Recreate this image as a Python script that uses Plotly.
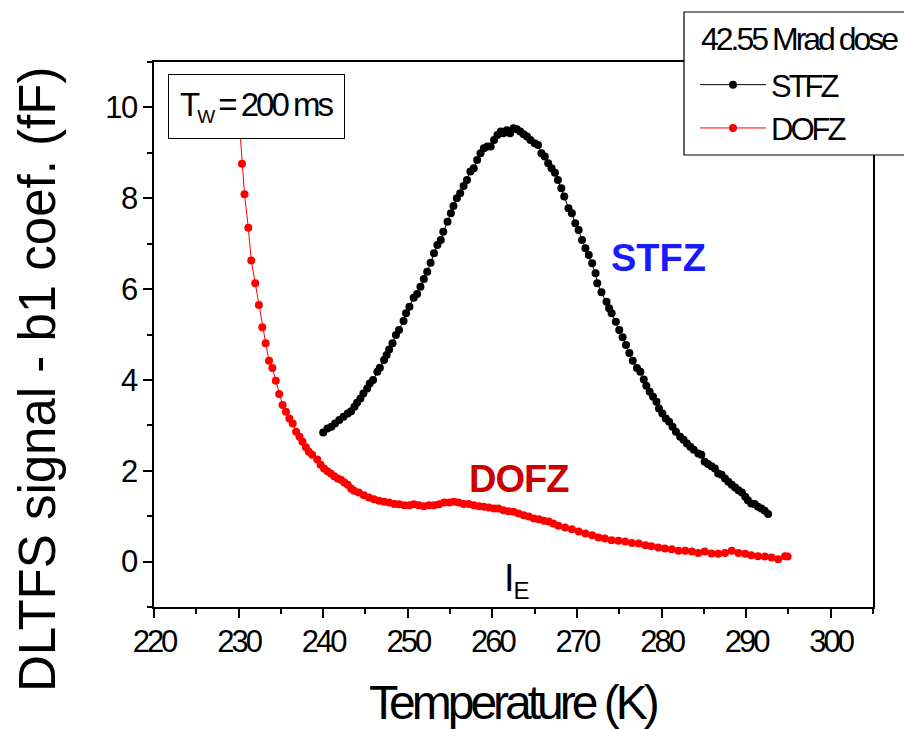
import plotly.graph_objects as go

# DLTFS b1 coefficient vs temperature, 42.55 Mrad dose, Tw = 200 ms
stfz_temp = [
    240.0, 240.5, 240.97, 241.4, 241.9, 242.4, 242.9, 243.3, 243.7, 244.0,
    244.4, 244.75, 245.2, 245.5, 245.9, 246.4, 246.7, 247.2, 247.5, 247.8,
    248.2, 248.6, 248.96, 249.5, 249.8, 250.2, 250.7, 251.1, 251.5, 251.9,
    252.3, 252.7, 253.1, 253.5, 253.9, 254.2, 254.7, 255.1, 255.4, 255.8,
    256.2, 256.6, 257.0, 257.4, 257.8, 258.2, 258.6, 259.0, 259.4, 259.8,
    260.2, 260.6, 261.0, 261.3, 261.7, 262.1, 262.5, 262.9, 263.3, 263.7,
    264.1, 264.5, 265.0, 265.4, 265.8, 266.2, 266.6, 267.0, 267.4, 267.75,
    268.15, 268.5, 269.0, 269.4, 269.8, 270.2, 270.6, 271.0, 271.4, 271.8,
    272.2, 272.4, 272.9, 273.5, 273.8, 274.1, 274.6, 275.0, 275.4, 275.8,
    276.2, 276.6, 277.1, 277.5, 277.9, 278.2, 278.6, 279.0, 279.4, 279.7,
    280.1, 280.5, 280.9, 281.3, 281.7, 282.2, 282.6, 283.0, 283.4, 283.8,
    284.35, 284.7, 285.1, 285.5, 285.9, 286.3, 286.7, 287.1, 287.5, 287.9,
    288.3, 288.7, 289.1, 289.5, 289.9, 290.2, 290.6, 291.0, 291.4, 291.8,
    292.2, 292.6,
]
stfz_signal = [
    2.84, 2.93, 2.97, 3.04, 3.12, 3.19, 3.26, 3.31, 3.41, 3.50,
    3.59, 3.70, 3.81, 3.92, 4.00, 4.18, 4.27, 4.44, 4.55, 4.67,
    4.81, 4.99, 5.10, 5.30, 5.47, 5.61, 5.81, 5.89, 6.05, 6.22,
    6.38, 6.58, 6.79, 6.97, 7.08, 7.26, 7.48, 7.67, 7.83, 8.00,
    8.11, 8.27, 8.40, 8.59, 8.66, 8.84, 8.99, 9.10, 9.14, 9.14,
    9.28, 9.39, 9.47, 9.43, 9.50, 9.43, 9.54, 9.52, 9.47, 9.41,
    9.36, 9.28, 9.21, 9.17, 8.99, 8.92, 8.77, 8.66, 8.56, 8.40,
    8.22, 8.04, 7.78, 7.67, 7.45, 7.30, 7.08, 6.90, 6.75, 6.57,
    6.35, 6.13, 5.93, 5.72, 5.58, 5.47, 5.28, 5.10, 4.94, 4.77,
    4.59, 4.42, 4.26, 4.18, 4.01, 3.87, 3.74, 3.63, 3.52, 3.37,
    3.26, 3.15, 3.08, 2.97, 2.86, 2.75, 2.68, 2.60, 2.53, 2.46,
    2.38, 2.35, 2.20, 2.15, 2.10, 2.05, 1.94, 1.91, 1.83, 1.76,
    1.69, 1.63, 1.57, 1.52, 1.43, 1.35, 1.28, 1.27, 1.21, 1.17,
    1.12, 1.05,
]

dofz_temp = [
    229.85, 230.4, 230.7, 231.15, 231.5, 231.97, 232.4, 232.8, 233.2, 233.6,
    234.0, 234.4, 234.8, 235.2, 235.6, 236.0, 236.4, 236.8, 237.2, 237.55,
    237.95, 238.3, 238.7, 239.3, 239.7, 240.1, 240.5, 240.9, 241.3, 241.7,
    242.1, 242.5, 242.9, 243.3, 243.65, 244.2, 244.8, 245.4, 246.0, 246.6,
    247.2, 247.8, 248.4, 248.96, 249.6, 250.2, 250.7, 251.3, 251.9, 252.5,
    253.1, 253.7, 254.3, 254.9, 255.45, 256.0, 256.6, 257.2, 257.8, 258.4,
    259.0, 259.6, 260.2, 260.7, 261.3, 261.9, 262.5, 263.1, 263.7, 264.3,
    264.9, 265.5, 266.1, 266.65, 267.2, 267.8, 268.6, 269.4, 270.2, 271.0,
    271.8, 272.55, 273.3, 274.1, 274.9, 275.7, 276.5, 277.3, 278.1, 278.8,
    279.6, 280.4, 281.2, 282.0, 282.8, 283.6, 284.35, 285.1, 285.9, 286.7,
    287.5, 288.3, 289.1, 289.9, 290.6, 291.4, 292.2, 293.0, 293.8, 294.6,
    294.9,
]
dofz_signal = [
    10.3, 8.76, 8.09, 7.35, 6.63, 6.13, 5.65, 5.16, 4.81, 4.42,
    4.26, 3.98, 3.69, 3.45, 3.30, 3.15, 3.04, 2.86, 2.75, 2.64,
    2.52, 2.42, 2.35, 2.25, 2.13, 2.05, 1.99, 1.94, 1.88, 1.83,
    1.80, 1.74, 1.69, 1.61, 1.56, 1.52, 1.46, 1.41, 1.37, 1.34,
    1.32, 1.30, 1.27, 1.26, 1.24, 1.24, 1.26, 1.24, 1.22, 1.24,
    1.24, 1.26, 1.30, 1.30, 1.32, 1.30, 1.27, 1.27, 1.24, 1.22,
    1.21, 1.19, 1.17, 1.17, 1.13, 1.11, 1.10, 1.06, 1.02, 0.99,
    0.95, 0.93, 0.90, 0.88, 0.84, 0.79, 0.75, 0.71, 0.66, 0.62,
    0.58, 0.53, 0.51, 0.47, 0.46, 0.44, 0.41, 0.40, 0.36, 0.34,
    0.31, 0.29, 0.27, 0.24, 0.24, 0.22, 0.19, 0.22, 0.18, 0.17,
    0.19, 0.24, 0.19, 0.17, 0.14, 0.12, 0.11, 0.09, 0.05, 0.12,
    0.11,
]

x_range = [220, 305]
y_range = [-1, 11]
x_ticks = [220, 230, 240, 250, 260, 270, 280, 290, 300]
y_ticks = [0, 2, 4, 6, 8, 10]

FONT = "Liberation Sans, Arial, sans-serif"


def tight(text, spacing):
    """Wrap text in a span with negative letter spacing (condensed look)."""
    return f"<span style='letter-spacing:{spacing}px'>{text}</span>"


fig = go.Figure()
fig.add_trace(go.Scatter(
    x=stfz_temp, y=stfz_signal, mode="lines+markers", name=tight("STFZ", -3),
    line=dict(color="black", width=1),
    marker=dict(color="black", size=8),
))
fig.add_trace(go.Scatter(
    x=dofz_temp, y=dofz_signal, mode="lines+markers", name=tight("DOFZ", -3),
    line=dict(color="#ff0000", width=1),
    marker=dict(color="#ff0000", size=8),
))

axis_common = dict(
    showline=True, linecolor="black", linewidth=2, mirror=True,
    ticks="outside", ticklen=9, tickwidth=2, tickcolor="black",
    showgrid=False, zeroline=False,
)
fig.update_xaxes(
    range=x_range, tickvals=x_ticks,
    ticktext=[tight(str(v), -3) for v in x_ticks],
    tickfont=dict(family=FONT, size=31, color="black"),
    ticklabelstandoff=-3,
    minor=dict(dtick=5, tick0=220, ticks="outside", ticklen=5,
               tickwidth=2, tickcolor="black"),
    **axis_common,
)
fig.update_yaxes(
    range=y_range, tickvals=y_ticks,
    ticktext=[tight(str(v), -1.5) for v in y_ticks],
    tickfont=dict(family=FONT, size=31, color="black"),
    minor=dict(dtick=1, tick0=-1, ticks="outside", ticklen=5,
               tickwidth=2, tickcolor="black"),
    **axis_common,
)

# plot area in pixels: x 154..873, y 62..607
def px_x(p):
    return (p - 154) / 719.0


def px_y(p):
    return (607 - p) / 545.0


annotations = [
    # axis titles
    dict(text=tight("Temperature (K)", -4), xref="paper", yref="paper",
         x=0.5, y=px_y(702), xanchor="center", yanchor="middle", showarrow=False,
         font=dict(family=FONT, size=48, color="black")),
    dict(text="DLTFS signal - b1 coef. (fF)", xref="paper", yref="paper",
         x=px_x(38), y=px_y(380), textangle=-90, xanchor="center",
         yanchor="middle", showarrow=False,
         font=dict(family=FONT, size=51, color="black")),
    # gate/pulse width box
    dict(text=tight("T<sub><span style='font-size:19px'>W</span></sub> = 200 ms", -3),
         x=232.06, y=10.03, xref="x", yref="y", showarrow=False,
         font=dict(family=FONT, size=33, color="black"),
         bordercolor="black", borderwidth=1, borderpad=11, bgcolor="white"),
    # curve labels
    dict(text="<b>STFZ</b>", x=279.7, y=6.68, xref="x", yref="y", showarrow=False,
         font=dict(family=FONT, size=38, color="#1a1aff")),
    dict(text=tight("<b>DOFZ</b>", -1), x=263.15, y=1.82, xref="x", yref="y",
         showarrow=False, font=dict(family=FONT, size=38, color="#cc0000")),
    dict(text=tight("I<sub><span style='font-size:24px'>E</span></sub>", -1),
         x=262.9, y=-0.41, xref="x", yref="y", showarrow=False,
         font=dict(family=FONT, size=38, color="black")),
    # legend heading
    dict(text=tight("42.55 Mrad dose", -3), xref="paper", yref="paper",
         x=px_x(699), y=px_y(39), xanchor="left", yanchor="middle",
         showarrow=False, font=dict(family=FONT, size=32, color="black")),
]

shapes = [
    # legend frame (covers the axis frame where they overlap)
    dict(type="rect", xref="paper", yref="paper", layer="above",
         x0=px_x(684), x1=px_x(915), y0=px_y(155), y1=px_y(12),
         line=dict(color="black", width=1.2), fillcolor="white"),
]

fig.update_layout(
    width=904, height=729, autosize=False,
    margin=dict(l=154, r=31, t=62, b=122, pad=0, autoexpand=False),
    paper_bgcolor="white", plot_bgcolor="white",
    showlegend=True,
    legend=dict(
        x=px_x(695), y=px_y(58), xanchor="left", yanchor="top",
        bgcolor="rgba(0,0,0,0)", borderwidth=0,
        font=dict(family=FONT, size=31, color="black"),
        itemwidth=66, tracegroupgap=0,
    ),
    annotations=annotations,
    shapes=shapes,
)

fig.write_html("out.html")
